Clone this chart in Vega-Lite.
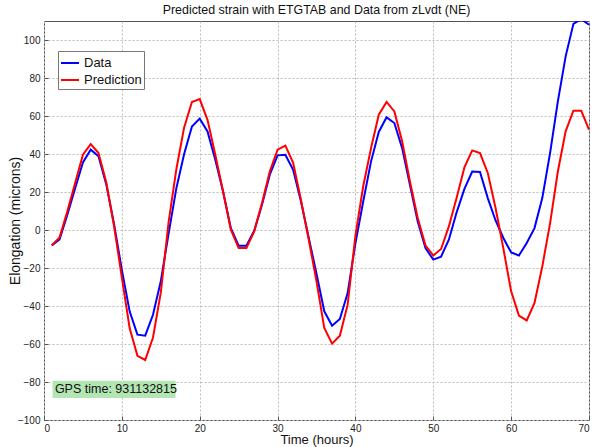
{
  "$schema": "https://vega.github.io/schema/vega-lite/v6.json",
  "autosize": {"type": "none"},
  "padding": {"left": 44, "top": 21, "right": 4, "bottom": 27},
  "width": 545,
  "height": 399,
  "background": "white",
  "title": {"text": "Predicted strain with ETGTAB and Data from zLvdt (NE)", "font": "Liberation Sans", "fontSize": 12.4, "fontWeight": "normal", "color": "#111", "anchor": "middle", "offset": 5},
  "config": {
    "view": {"stroke": "#555", "strokeWidth": 1},
    "font": "Liberation Sans",
    "axis": {
      "labelFont": "Liberation Sans", "labelFontSize": 10, "labelColor": "#222", "labelOverlap": false,
      "titleFont": "Liberation Sans", "titleFontSize": 13, "titleFontWeight": "normal", "titleColor": "#111",
      "gridColor": "#bdbdbd", "gridDash": [2, 2], "gridWidth": 1,
      "domain": false, "tickColor": "#555", "tickSize": -4, "tickWidth": 1
    }
  },
  "data": {"values": [
    {"t":1,"s":"Data","v":-8.1},{"t":2,"s":"Data","v":-5},{"t":3,"s":"Data","v":8},{"t":4,"s":"Data","v":22},{"t":5,"s":"Data","v":35.6},
    {"t":6,"s":"Data","v":42.3},{"t":7,"s":"Data","v":38.8},{"t":8,"s":"Data","v":24},{"t":9,"s":"Data","v":3},{"t":10,"s":"Data","v":-21},
    {"t":11,"s":"Data","v":-42.8},{"t":12,"s":"Data","v":-55.1},{"t":13,"s":"Data","v":-55.6},{"t":14,"s":"Data","v":-44.6},{"t":15,"s":"Data","v":-27},
    {"t":16,"s":"Data","v":-2},{"t":17,"s":"Data","v":22},{"t":18,"s":"Data","v":40},{"t":19,"s":"Data","v":54.5},{"t":20,"s":"Data","v":58.6},
    {"t":21,"s":"Data","v":51.9},{"t":22,"s":"Data","v":37},{"t":23,"s":"Data","v":20.3},{"t":24,"s":"Data","v":1},{"t":25,"s":"Data","v":-8.3},
    {"t":26,"s":"Data","v":-8.3},{"t":27,"s":"Data","v":-0.4},{"t":28,"s":"Data","v":13.3},{"t":29,"s":"Data","v":29.1},{"t":30,"s":"Data","v":39.3},
    {"t":31,"s":"Data","v":39.6},{"t":32,"s":"Data","v":31.7},{"t":33,"s":"Data","v":15.1},{"t":34,"s":"Data","v":-4},{"t":35,"s":"Data","v":-23},
    {"t":36,"s":"Data","v":-42.8},{"t":37,"s":"Data","v":-50.4},{"t":38,"s":"Data","v":-46.8},{"t":39,"s":"Data","v":-33.2},{"t":40,"s":"Data","v":-7},
    {"t":41,"s":"Data","v":15},{"t":42,"s":"Data","v":36},{"t":43,"s":"Data","v":51.6},{"t":44,"s":"Data","v":59.3},{"t":45,"s":"Data","v":56.3},
    {"t":46,"s":"Data","v":43.1},{"t":47,"s":"Data","v":23.8},{"t":48,"s":"Data","v":4.5},{"t":49,"s":"Data","v":-9.5},{"t":50,"s":"Data","v":-15.6},
    {"t":51,"s":"Data","v":-14},{"t":52,"s":"Data","v":-5.1},{"t":53,"s":"Data","v":9.3},{"t":54,"s":"Data","v":21.6},{"t":55,"s":"Data","v":30.8},
    {"t":56,"s":"Data","v":30.5},{"t":57,"s":"Data","v":16.8},{"t":58,"s":"Data","v":5},{"t":59,"s":"Data","v":-4.2},{"t":60,"s":"Data","v":-11.8},
    {"t":61,"s":"Data","v":-13.4},{"t":62,"s":"Data","v":-6.8},{"t":63,"s":"Data","v":1},{"t":64,"s":"Data","v":16.8},{"t":65,"s":"Data","v":40.5},
    {"t":66,"s":"Data","v":67.7},{"t":67,"s":"Data","v":91.4},{"t":68,"s":"Data","v":108.5},{"t":69,"s":"Data","v":111},{"t":70,"s":"Data","v":108},
    {"t":1,"s":"Prediction","v":-8.1},{"t":2,"s":"Prediction","v":-3.9},{"t":3,"s":"Prediction","v":9.8},{"t":4,"s":"Prediction","v":24.7},{"t":5,"s":"Prediction","v":39.6},
    {"t":6,"s":"Prediction","v":45.2},{"t":7,"s":"Prediction","v":40.5},{"t":8,"s":"Prediction","v":25},{"t":9,"s":"Prediction","v":2},{"t":10,"s":"Prediction","v":-25},
    {"t":11,"s":"Prediction","v":-51.6},{"t":12,"s":"Prediction","v":-66.2},{"t":13,"s":"Prediction","v":-68.4},{"t":14,"s":"Prediction","v":-56.6},{"t":15,"s":"Prediction","v":-33},
    {"t":16,"s":"Prediction","v":4},{"t":17,"s":"Prediction","v":32},{"t":18,"s":"Prediction","v":54},{"t":19,"s":"Prediction","v":67.4},{"t":20,"s":"Prediction","v":68.9},
    {"t":21,"s":"Prediction","v":58},{"t":22,"s":"Prediction","v":39.6},{"t":23,"s":"Prediction","v":20.3},{"t":24,"s":"Prediction","v":0.2},{"t":25,"s":"Prediction","v":-9.5},
    {"t":26,"s":"Prediction","v":-9.5},{"t":27,"s":"Prediction","v":-0.7},{"t":28,"s":"Prediction","v":14.2},{"t":29,"s":"Prediction","v":30.8},{"t":30,"s":"Prediction","v":42.3},
    {"t":31,"s":"Prediction","v":44.4},{"t":32,"s":"Prediction","v":35.3},{"t":33,"s":"Prediction","v":15.9},{"t":34,"s":"Prediction","v":-5},{"t":35,"s":"Prediction","v":-27},
    {"t":36,"s":"Prediction","v":-51.6},{"t":37,"s":"Prediction","v":-59.8},{"t":38,"s":"Prediction","v":-55.6},{"t":39,"s":"Prediction","v":-39.3},{"t":40,"s":"Prediction","v":-3},
    {"t":41,"s":"Prediction","v":23},{"t":42,"s":"Prediction","v":43},{"t":43,"s":"Prediction","v":60.7},{"t":44,"s":"Prediction","v":67.4},{"t":45,"s":"Prediction","v":62.4},
    {"t":46,"s":"Prediction","v":46.7},{"t":47,"s":"Prediction","v":25.6},{"t":48,"s":"Prediction","v":6.3},{"t":49,"s":"Prediction","v":-8.2},{"t":50,"s":"Prediction","v":-13.4},
    {"t":51,"s":"Prediction","v":-10},{"t":52,"s":"Prediction","v":1.9},{"t":53,"s":"Prediction","v":17},{"t":54,"s":"Prediction","v":33},{"t":55,"s":"Prediction","v":41.9},
    {"t":56,"s":"Prediction","v":40.5},{"t":57,"s":"Prediction","v":30},{"t":58,"s":"Prediction","v":11.6},{"t":59,"s":"Prediction","v":-9.7},{"t":60,"s":"Prediction","v":-32.3},
    {"t":61,"s":"Prediction","v":-45},{"t":62,"s":"Prediction","v":-47.6},{"t":63,"s":"Prediction","v":-38.4},{"t":64,"s":"Prediction","v":-19.2},{"t":65,"s":"Prediction","v":3.5},
    {"t":66,"s":"Prediction","v":30.8},{"t":67,"s":"Prediction","v":51.9},{"t":68,"s":"Prediction","v":62.8},{"t":69,"s":"Prediction","v":62.8},{"t":70,"s":"Prediction","v":52.8}
  ]},
  "layer": [
    {
      "mark": {"type": "line", "strokeWidth": 2, "clip": true},
      "encoding": {
        "x": {"field": "t", "type": "quantitative", "scale": {"domain": [0, 70], "nice": false, "zero": false},
              "axis": {"title": "Time (hours)", "values": [0,10,20,30,40,50,60,70], "tickCount": 20, "labelPadding": 7, "titlePadding": 0, "labelOverlap": false}},
        "y": {"field": "v", "type": "quantitative", "scale": {"domain": [-100, 110], "nice": false, "zero": false},
              "axis": {"title": "Elongation (microns)", "values": [-100,-80,-60,-40,-20,0,20,40,60,80,100], "tickCount": 30, "labelPadding": 8,
                       "labelOverlap": false, "labelBound": false, "titleFontSize": 14, "titleX": -29, "titleAlign": "center", "titleBaseline": "middle", "titleAngle": -90}},
        "color": {"field": "s", "type": "nominal",
                  "scale": {"domain": ["Data", "Prediction"], "range": ["#0000ff", "#ff0000"]},
                  "legend": {"title": null, "orient": "none", "legendX": 14, "legendY": 30,
                             "symbolType": "stroke", "symbolStrokeWidth": 2, "symbolSize": 324,
                             "labelFont": "Liberation Sans", "labelFontSize": 13, "labelColor": "#111",
                             "strokeColor": "#777", "fillColor": "white", "padding": 2, "rowPadding": -1, "labelOffset": 4}}
      }
    },
    {
      "data": {"values": [{"label": "GPS time: 931132815"}]},
      "mark": {"type": "rect", "color": "#b3e6b3"},
      "encoding": {"x": {"datum": 1.1}, "x2": {"datum": 16.9}, "y": {"datum": -79.3}, "y2": {"datum": -88.4}}
    },
    {
      "data": {"values": [{"label": "GPS time: 931132815"}]},
      "mark": {"type": "text", "align": "left", "baseline": "middle", "fontSize": 12.5, "font": "Liberation Sans", "color": "#111"},
      "encoding": {"x": {"datum": 1.4}, "y": {"datum": -83.8}, "text": {"field": "label"}}
    }
  ]
}
